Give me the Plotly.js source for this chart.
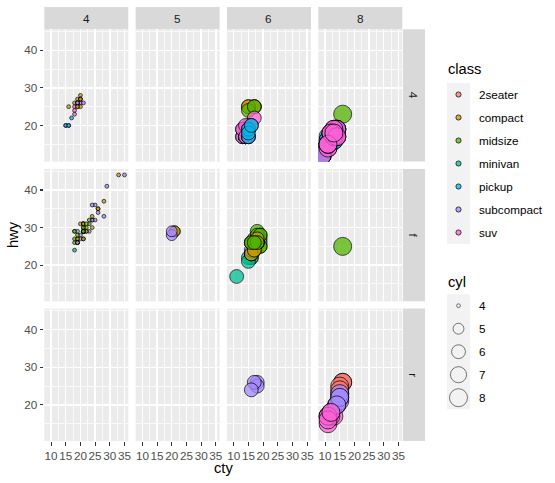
<!DOCTYPE html>
<html><head><meta charset="utf-8">
<script src="https://cdn.plot.ly/plotly-3.0.1.min.js"></script>
<style>html,body{margin:0;padding:0;background:#fff}#chart{width:555px;height:483px}</style>
</head><body><div id="chart"></div>
<script>
// mpg data (ggplot2): city mpg, highway mpg, cylinders, drive train, class
const cty=[18,21,20,21,16,18,18,18,16,20, 19,15,17,17,15,15,17,16,14,11, 14,13,12,16,15,16,15,15,14,11,
11,14,19,22,18,18,17,18,17,16, 16,17,17,11,15,15,16,16,15,14, 13,14,14,14,9,11,11,13,13,9,
13,11,13,11,12,9,13,13,12,9, 11,11,13,11,11,11,12,14,15,14, 13,13,13,14,14,13,13,13,11,13,
18,18,17,16,15,15,15,15,14,28, 24,25,23,24,26,25,24,21,18,18, 21,21,18,18,19,19,19,20,20,17,
16,17,17,15,15,14,9,14,13,11, 11,12,12,11,11,11,12,14,13,13, 13,21,19,23,23,19,19,18,19,19,
14,15,14,12,18,16,17,18,16,18, 18,20,19,20,18,21,19,19,19,20, 20,19,20,15,16,15,15,16,14,21,
21,21,21,18,18,19,21,21,21,22, 18,18,18,24,24,26,28,26,11,13, 15,16,17,15,15,15,16,21,19,21,
22,17,33,21,19,22,21,21,21,16, 17,35,29,21,19,20,20,21,18,19, 21,16,18,17];
const hwy=[29,29,31,30,26,26,27,26,25,28, 27,25,25,25,25,24,25,23,20,15, 20,17,17,26,23,26,25,24,19,14,
15,17,27,30,26,29,26,24,24,22, 22,24,24,17,22,21,23,23,19,18, 17,17,19,19,12,17,15,17,17,12,
17,16,18,15,16,12,17,17,16,12, 15,16,17,15,17,17,18,17,19,17, 19,19,17,17,17,16,16,17,15,17,
26,25,26,24,21,22,23,22,20,33, 32,32,29,32,34,36,36,29,26,27, 30,31,26,26,28,26,29,28,27,24,
24,24,22,19,20,17,12,19,18,14, 15,18,18,15,17,16,18,17,19,19, 17,29,27,31,32,27,26,26,25,25,
17,17,20,18,26,26,27,28,25,25, 24,27,25,26,23,26,26,26,26,25, 27,25,27,20,20,19,17,20,17,29,
27,31,31,26,26,28,27,29,31,31, 26,26,27,30,33,35,37,35,15,18, 20,20,22,17,19,18,20,29,26,29,
29,24,44,29,26,29,29,29,29,23, 24,44,41,29,26,28,29,29,29,28, 29,26,26,26];
const cyl=[4,4,4,4,6,6,6,4,4,4, 4,6,6,6,6,6,6,8,8,8, 8,8,8,8,8,8,8,8,8,8,
8,8,4,4,6,6,6,4,6,6, 6,6,6,6,6,6,6,6,6,6, 6,6,8,8,8,8,8,6,8,8,
8,8,8,8,8,8,8,8,8,8, 8,8,8,8,8,8,8,6,6,6, 6,8,8,6,6,8,8,8,8,8,
6,6,6,6,8,8,8,8,8,4, 4,4,4,4,4,4,4,4,4,4, 4,4,6,6,6,4,4,4,4,6,
6,6,6,6,6,8,8,8,8,8, 8,8,8,8,8,8,8,6,6,8, 8,4,4,4,4,6,6,6,6,6,
6,6,6,8,6,6,6,6,8,4, 4,4,4,4,4,4,4,4,4,4, 4,4,4,4,4,6,6,6,8,4,
4,4,4,6,6,6,4,4,4,4, 6,6,6,4,4,4,4,4,8,8, 4,4,4,6,6,6,6,4,4,4,
4,6,4,4,4,4,4,5,5,6, 6,4,4,4,4,5,5,4,4,4, 4,6,6,6];
const drv=["f","f","f","f","f","f","f","4","4","4", "4","4","4","4","4","4","4","4","r","r", "r","r","r","r","r","r","r","r","4","4",
"4","4","f","f","f","f","f","f","f","f", "f","f","f","f","f","f","f","f","4","4", "4","4","4","4","4","4","4","4","4","4",
"4","4","4","4","4","4","4","4","4","4", "4","4","4","4","r","r","r","4","4","4", "4","4","4","4","4","4","4","4","4","4",
"r","r","r","r","r","r","r","r","r","f", "f","f","f","f","f","f","f","f","f","f", "f","f","f","f","f","f","f","f","f","f",
"f","f","4","4","4","4","4","4","4","4", "4","4","4","4","r","r","r","4","4","4", "4","f","f","f","f","f","f","f","f","f",
"4","4","4","4","f","f","f","f","f","4", "4","4","4","4","4","4","4","4","4","4", "4","4","4","4","4","4","4","4","4","f",
"f","f","f","f","f","f","f","f","f","f", "f","f","f","f","f","f","f","f","4","4", "4","4","4","4","4","4","4","f","f","f",
"f","f","f","f","f","f","f","f","f","f", "f","f","f","f","f","f","f","f","f","f", "f","f","f","f"];
const cls=["compact","compact","compact","compact","compact","compact","compact","compact","compact","compact",
"compact","compact","compact","compact","compact","midsize","midsize","midsize","suv","suv",
"suv","suv","suv","2seater","2seater","2seater","2seater","2seater","suv","suv",
"suv","suv","midsize","midsize","midsize","midsize","midsize","minivan","minivan","minivan",
"minivan","minivan","minivan","minivan","minivan","minivan","minivan","minivan","pickup","pickup",
"pickup","pickup","pickup","pickup","pickup","pickup","pickup","suv","suv","suv",
"suv","suv","suv","suv","pickup","pickup","pickup","pickup","pickup","pickup",
"pickup","pickup","pickup","pickup","suv","suv","suv","suv","suv","suv",
"suv","suv","suv","pickup","pickup","pickup","pickup","pickup","pickup","pickup",
"subcompact","subcompact","subcompact","subcompact","subcompact","subcompact","subcompact","subcompact","subcompact","subcompact",
"subcompact","subcompact","subcompact","subcompact","subcompact","subcompact","subcompact","subcompact","midsize","midsize",
"midsize","midsize","midsize","midsize","midsize","subcompact","subcompact","subcompact","subcompact","subcompact",
"subcompact","subcompact","suv","suv","suv","suv","suv","suv","suv","suv",
"suv","suv","suv","suv","suv","suv","suv","suv","suv","suv",
"suv","compact","compact","midsize","midsize","midsize","midsize","midsize","midsize","midsize",
"suv","suv","suv","suv","midsize","midsize","midsize","midsize","midsize","suv",
"suv","suv","suv","suv","suv","subcompact","subcompact","subcompact","subcompact","compact",
"compact","compact","compact","suv","suv","suv","suv","suv","suv","midsize",
"midsize","midsize","midsize","midsize","midsize","midsize","compact","compact","compact","compact",
"compact","compact","compact","compact","compact","compact","compact","compact","suv","suv",
"pickup","pickup","pickup","pickup","pickup","pickup","pickup","compact","compact","compact",
"compact","compact","compact","compact","compact","compact","compact","compact","compact","compact",
"compact","subcompact","subcompact","subcompact","subcompact","subcompact","subcompact","midsize","midsize","midsize",
"midsize","midsize","midsize","midsize"];

const classNames=["2seater","compact","midsize","minivan","pickup","subcompact","suv"];
const classColors=["#F8766D","#C49A00","#53B400","#00C094","#00B6EB","#A58AFF","#FB61D7"];
const cylFacets=[4,5,6,8];
const drvFacets=["4","f","r"];
const cylLegend=[4,5,6,7,8];
const xTitle="cty", yTitle="hwy";

// ---- geometry (px) ----
const W=555,H=483;
const ALPHA=0.75;
const FONT="Liberation Sans, Arial, Helvetica, sans-serif";
const PL=44.3, PR=402.3, PT=29.2, PB=441, GAP=7.33;
const pw=(PR-PL-GAP*(cylFacets.length-1))/cylFacets.length;
const ph=(PB-PT-GAP*(drvFacets.length-1))/drvFacets.length;
const cylMin=Math.min(...cyl), cylMax=Math.max(...cyl);
function diam(c){ // ggplot area scale range 1..6 -> px diameter of shape 21
  const s=1+5*Math.sqrt((c-cylMin)/(cylMax-cylMin));
  return (s*2.845+0.945)*0.75*96/72;
}
function hexA(h,a){const r=parseInt(h.slice(1,3),16),g=parseInt(h.slice(3,5),16),b=parseInt(h.slice(5,7),16);return `rgba(${r},${g},${b},${a})`;}
const colorOf=c=>classColors[classNames.indexOf(c)];
function expand(arr){const mn=Math.min(...arr),mx=Math.max(...arr),d=(mx-mn)*0.05;return [mn-d,mx+d];}
const xr=expand(cty), yr=expand(hwy);

const px=x=>x/W, py=y=>1-y/H;
const data=[]; const layout={
  width:W,height:H,autosize:false,margin:{l:0,r:0,t:0,b:0},
  paper_bgcolor:"#FFFFFF",plot_bgcolor:"#EBEBEB",showlegend:false,
  font:{family:FONT,size:11.7,color:"#4D4D4D"},
  shapes:[],annotations:[]
};

drvFacets.forEach((dv,r)=>{
  cylFacets.forEach((cv,c)=>{
    const k=r*cylFacets.length+c+1, sfx=k===1?"":String(k);
    const x0=PL+c*(pw+GAP), y0=PT+r*(ph+GAP);
    const bottom=r===drvFacets.length-1, left=c===0;
    layout["xaxis"+sfx]={domain:[px(x0),px(x0+pw)],anchor:"y"+sfx,range:xr,
      tick0:0,dtick:5,showgrid:true,gridcolor:"#FFFFFF",gridwidth:1.4,zeroline:false,showline:false,
      minor:{dtick:2.5,showgrid:true,gridcolor:"#FFFFFF",gridwidth:0.7,ticks:""},
      ticks:bottom?"outside":"",ticklen:3.7,tickwidth:1.1,tickcolor:"#333333",
      showticklabels:bottom,tickangle:0,tickfont:{family:FONT,size:11.7,color:"#4D4D4D"},fixedrange:true};
    layout["yaxis"+sfx]={domain:[py(y0+ph),py(y0)],anchor:"x"+sfx,range:yr,
      tick0:0,dtick:10,showgrid:true,gridcolor:"#FFFFFF",gridwidth:1.4,zeroline:false,showline:false,
      minor:{dtick:5,showgrid:true,gridcolor:"#FFFFFF",gridwidth:0.7,ticks:""},
      ticks:left?"outside":"",ticklen:3.7,tickwidth:1.1,tickcolor:"#333333",
      showticklabels:left,tickfont:{family:FONT,size:11.7,color:"#4D4D4D"},fixedrange:true};
    const idx=[];
    for(let i=0;i<cty.length;i++) if(drv[i]===dv && cyl[i]===cv) idx.push(i);
    data.push({type:"scatter",mode:"markers",xaxis:"x"+sfx,yaxis:"y"+sfx,
      x:idx.map(i=>cty[i]),y:idx.map(i=>hwy[i]),hoverinfo:"skip",
      marker:{symbol:"circle",size:idx.map(i=>diam(cyl[i])),color:idx.map(i=>colorOf(cls[i])),
        opacity:ALPHA,line:{color:"#000000",width:0.95}}});
  });
});

// strips
const stripFont={family:FONT,size:11.7,color:"#1A1A1A"};
cylFacets.forEach((cv,c)=>{
  const x0=PL+c*(pw+GAP);
  layout.shapes.push({type:"rect",xref:"paper",yref:"paper",x0:px(x0),x1:px(x0+pw),y0:py(PT),y1:py(7),fillcolor:"#D9D9D9",line:{width:0},layer:"below"});
  layout.annotations.push({xref:"paper",yref:"paper",x:px(x0+pw/2),y:py((PT+7)/2),text:String(cv),showarrow:false,font:stripFont,xanchor:"center",yanchor:"middle"});
});
drvFacets.forEach((dv,r)=>{
  const y0=PT+r*(ph+GAP);
  layout.shapes.push({type:"rect",xref:"paper",yref:"paper",x0:px(PR+0.7),x1:px(425),y0:py(y0+ph),y1:py(y0),fillcolor:"#D9D9D9",line:{width:0},layer:"below"});
  layout.annotations.push({xref:"paper",yref:"paper",x:px((PR+425)/2),y:py(y0+ph/2),text:dv,textangle:90,showarrow:false,font:stripFont,xanchor:"center",yanchor:"middle"});
});

// axis titles
layout.annotations.push({xref:"paper",yref:"paper",x:px((PL+PR)/2),y:py(468),text:xTitle,showarrow:false,font:{family:FONT,size:14.7,color:"#000"},xanchor:"center",yanchor:"middle"});
layout.annotations.push({xref:"paper",yref:"paper",x:px(13),y:py((PT+PB)/2),text:yTitle,textangle:-90,showarrow:false,font:{family:FONT,size:14.7,color:"#000"},xanchor:"center",yanchor:"middle"});

// legends
const LX=447, KEY=23, KC=LX+KEY/2, TX=477.3;
function circle(cx,cy,d,fill,line){
  layout.shapes.push({type:"circle",xref:"paper",yref:"paper",x0:px(cx-d/2),x1:px(cx+d/2),y0:py(cy+d/2),y1:py(cy-d/2),fillcolor:fill,line:{color:line,width:0.95}});
}
layout.annotations.push({xref:"paper",yref:"paper",x:px(446),y:py(69.3),text:"class",showarrow:false,font:{family:FONT,size:14.7,color:"#000"},xanchor:"left",yanchor:"middle"});
let top1=83;
layout.shapes.push({type:"rect",xref:"paper",yref:"paper",x0:px(LX),x1:px(LX+KEY),y0:py(top1+KEY*classNames.length),y1:py(top1),fillcolor:"#F2F2F2",line:{width:0}});
classNames.forEach((n,i)=>{
  const cy=top1+KEY*i+KEY/2;
  circle(KC,cy,diam(cylMin)*1.37,hexA(classColors[i],ALPHA),`rgba(0,0,0,${ALPHA})`);
  layout.annotations.push({xref:"paper",yref:"paper",x:px(TX),y:py(cy),text:n,showarrow:false,font:{family:FONT,size:11.7,color:"#000"},xanchor:"left",yanchor:"middle"});
});
layout.annotations.push({xref:"paper",yref:"paper",x:px(446),y:py(281.7),text:"cyl",showarrow:false,font:{family:FONT,size:14.7,color:"#000"},xanchor:"left",yanchor:"middle"});
let top2=294.2;
layout.shapes.push({type:"rect",xref:"paper",yref:"paper",x0:px(LX),x1:px(LX+KEY),y0:py(top2+KEY*cylLegend.length),y1:py(top2),fillcolor:"#F2F2F2",line:{width:0}});
cylLegend.forEach((c,i)=>{
  const cy=top2+KEY*i+KEY/2;
  circle(KC,cy,diam(c),"rgba(0,0,0,0)",`rgba(0,0,0,0.55)`);
  layout.annotations.push({xref:"paper",yref:"paper",x:px(TX),y:py(cy),text:String(c),showarrow:false,font:{family:FONT,size:11.7,color:"#000"},xanchor:"left",yanchor:"middle"});
});

Plotly.newPlot("chart",data,layout,{staticPlot:true,displayModeBar:false});
</script></body></html>
